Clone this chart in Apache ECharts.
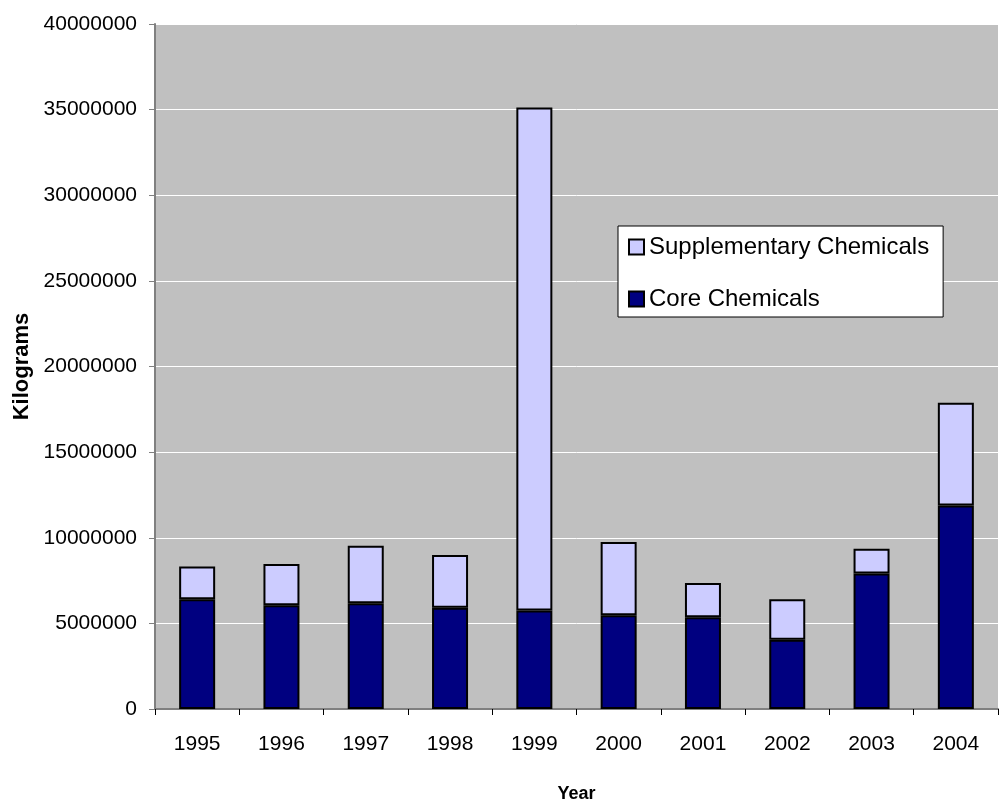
<!DOCTYPE html>
<html>
<head>
<meta charset="utf-8">
<script src="https://cdn.jsdelivr.net/npm/echarts@6/dist/echarts.min.js"></script>
<style>
  html, body { margin: 0; padding: 0; background: #fff; }
  #chart { width: 1000px; height: 803px; }
</style>
</head>
<body>
<div id="chart"></div>
<script>
const years = ['1995', '1996', '1997', '1998', '1999', '2000', '2001', '2002', '2003', '2004'];
const coreChemicals = [6410000, 6060000, 6180000, 5910000, 5750000, 5480000, 5360000, 4040000, 7910000, 11890000];
const supplementaryChemicals = [1910000, 2400000, 3350000, 3080000, 29380000, 4270000, 2000000, 2370000, 1450000, 6000000];

const font = '"Liberation Sans", Arial, sans-serif';

const chart = echarts.init(document.getElementById('chart'));

const option = {
  animation: false,
  backgroundColor: '#ffffff',
  textStyle: { fontFamily: font },
  grid: {
    left: 155,
    right: 2,
    top: 24,
    bottom: 94,
    outerBoundsMode: 'none',
    show: true,
    backgroundColor: '#C0C0C0',
    borderWidth: 0,
  },
  legend: {
    orient: 'vertical',
    left: 618,
    top: 226,
    padding: [9, 14, 6, 10],
    itemGap: 28,
    itemWidth: 15,
    itemHeight: 15,
    icon: 'rect',
    backgroundColor: '#ffffff',
    borderColor: '#000000',
    borderWidth: 1,
    borderRadius: 0,
    data: ['Supplementary Chemicals', 'Core Chemicals'],
    textStyle: { fontFamily: font, fontSize: 24, color: '#000' },
  },
  xAxis: {
    type: 'category',
    data: years,
    name: 'Year',
    nameLocation: 'middle',
    nameGap: 76,
    nameTextStyle: { fontFamily: font, fontSize: 18, fontWeight: 'bold', color: '#000' },
    axisLine: { lineStyle: { color: '#808080', width: 2 } },
    axisTick: { show: true, length: 6, lineStyle: { color: '#000' } },
    axisLabel: { fontFamily: font, fontSize: 21, color: '#000', margin: 25 },
    splitLine: { show: false },
  },
  yAxis: {
    type: 'value',
    min: 0,
    max: 40000000,
    interval: 5000000,
    name: 'Kilograms',
    nameLocation: 'middle',
    nameGap: 122,
    nameTextStyle: { fontFamily: font, fontSize: 22, fontWeight: 'bold', color: '#000' },
    axisLine: { show: true, lineStyle: { color: '#808080', width: 2 } },
    axisTick: { show: true, length: 6, lineStyle: { color: '#808080' } },
    axisLabel: {
      fontFamily: font,
      fontSize: 21,
      color: '#000',
      margin: 18,
      formatter: (v) => String(v),
    },
    splitLine: { show: true, lineStyle: { color: '#ffffff', width: 1 } },
  },
  series: [
    {
      name: 'Core Chemicals',
      type: 'bar',
      stack: 'total',
      barWidth: 36,
      data: coreChemicals,
      itemStyle: { color: '#000080', borderColor: '#000000', borderWidth: 2 },
    },
    {
      name: 'Supplementary Chemicals',
      type: 'bar',
      stack: 'total',
      barWidth: 36,
      data: supplementaryChemicals,
      itemStyle: { color: '#CCCCFF', borderColor: '#000000', borderWidth: 2 },
    },
  ],
};

chart.setOption(option);
</script>
</body>
</html>
